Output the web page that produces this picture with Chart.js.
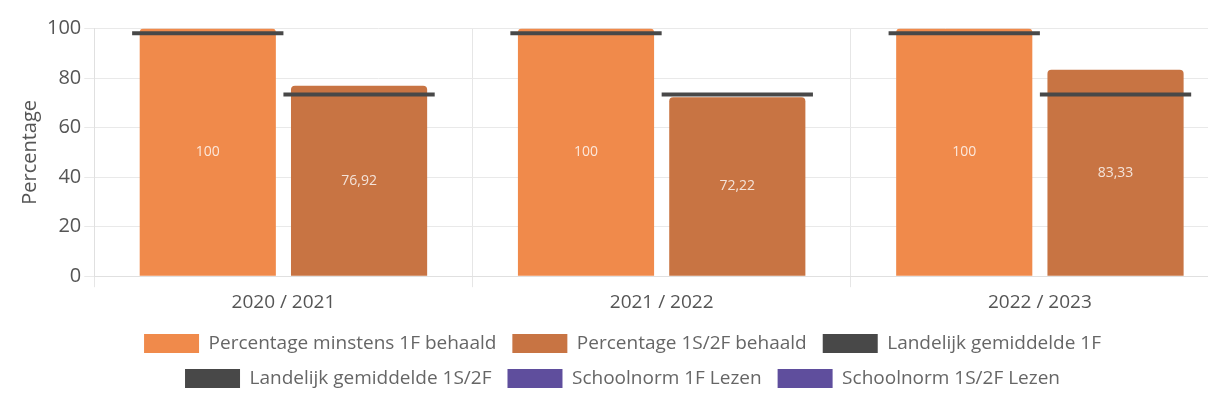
<!DOCTYPE html>
<html>
<head>
<meta charset="utf-8">
<script src="https://cdn.jsdelivr.net/npm/chart.js@4.4.1/dist/chart.umd.min.js"></script>
<style>
  html, body { margin: 0; padding: 0; background: #fff; overflow: hidden; }
  .chart_container { width: 1236px; height: 412px; }
</style>
</head>
<body>
<div class="chart_container"><canvas id="results"></canvas></div>
<script>
const schoolYears = ['2020 / 2021', '2021 / 2022', '2022 / 2023']
const percentage1F = [100, 100, 100]
const percentage1S2F = [76.92, 72.22, 83.33]
const landelijk1F = [98.1, 98.1, 98.1]
const landelijk1S2F = [73.4, 73.4, 73.4]
const schoolnorm1F = [null, null, null]
const schoolnorm1S2F = [null, null, null]

const orange = '#f08a4b'
const brown = '#c87443'
const grey = '#484848'
const purple = '#5f4e9d'

// writes the value in the middle of each bar (decimal comma) and
// draws the average datasets as a thick line across their bar slot
const barExtras = {
  id: 'barExtras',
  afterDatasetsDraw (chart) {
    const ctx = chart.ctx
    ctx.save()
    chart.data.datasets.forEach((dataset, i) => {
      const bars = chart.getDatasetMeta(i).data
      if (dataset.averageLine) {
        ctx.strokeStyle = dataset.legendColor
        ctx.lineWidth = 4
        bars.forEach((bar) => {
          ctx.beginPath()
          ctx.moveTo(bar.x - bar.width / 2, bar.y)
          ctx.lineTo(bar.x + bar.width / 2, bar.y)
          ctx.stroke()
        })
      }
      if (dataset.showValue) {
        ctx.font = '14px "Open Sans"'
        ctx.fillStyle = 'rgba(255, 255, 255, 0.8)'
        ctx.textAlign = 'center'
        ctx.textBaseline = 'middle'
        bars.forEach((bar, j) => {
          const value = dataset.data[j]
          ctx.fillText(String(value).replace('.', ','), bar.x, (bar.y + bar.base) / 2)
        })
      }
    })
    ctx.restore()
  }
}

function averageLine (label, data, stack) {
  return {
    label,
    data,
    stack,
    averageLine: true,
    backgroundColor: 'transparent',
    borderWidth: 0,
    legendColor: grey,
    barPercentage: 1
  }
}

Chart.defaults.font.family = '"Open Sans", sans-serif'
Chart.defaults.color = '#666'

const config = {
  type: 'bar',
  data: {
    labels: schoolYears,
    datasets: [
      { label: 'Percentage minstens 1F behaald', data: percentage1F, stack: 'a', backgroundColor: orange, borderRadius: 4, showValue: true },
      { label: 'Percentage 1S/2F behaald', data: percentage1S2F, stack: 'b', backgroundColor: brown, borderRadius: 4, showValue: true },
      averageLine('Landelijk gemiddelde 1F', landelijk1F, 'a'),
      averageLine('Landelijk gemiddelde 1S/2F', landelijk1S2F, 'b'),
      { label: 'Schoolnorm 1F Lezen', data: schoolnorm1F, stack: 'a', backgroundColor: purple },
      { label: 'Schoolnorm 1S/2F Lezen', data: schoolnorm1S2F, stack: 'b', backgroundColor: purple }
    ]
  },
  options: {
    responsive: true,
    maintainAspectRatio: false,
    animation: false,
    layout: { padding: { top: 28.5, right: 7, left: 16, bottom: 14 } },
    scales: {
      x: {
        grid: { color: '#e6e6e6', tickLength: 11 },
        border: { color: '#e0e0e0' },
        ticks: { font: { size: 19 }, color: '#555', padding: 4 }
      },
      y: {
        stacked: false,
        min: 0,
        max: 100,
        grid: { color: '#e9e9e9', tickLength: 10 },
        border: { color: '#e0e0e0' },
        ticks: { stepSize: 20, font: { size: 20 }, color: '#555', padding: 3 },
        title: { display: true, text: 'Percentage', font: { size: 20 }, color: '#555', padding: 2 }
      }
    },
    plugins: {
      tooltip: { enabled: false },
      legend: {
        position: 'bottom',
        labels: {
          boxWidth: 55,
          boxHeight: 19,
          padding: 16,
          color: '#666',
          font: { size: 19 },
          generateLabels (chart) {
            const items = Chart.defaults.plugins.legend.labels.generateLabels(chart)
            items.forEach((item) => {
              const ds = chart.data.datasets[item.datasetIndex]
              if (ds.legendColor) item.fillStyle = ds.legendColor
              item.strokeStyle = item.fillStyle
              item.lineWidth = 0
            })
            return items
          }
        }
      }
    }
  },
  plugins: [barExtras]
}

new Chart(document.getElementById('results'), config) // eslint-disable-line
</script>
</body>
</html>
